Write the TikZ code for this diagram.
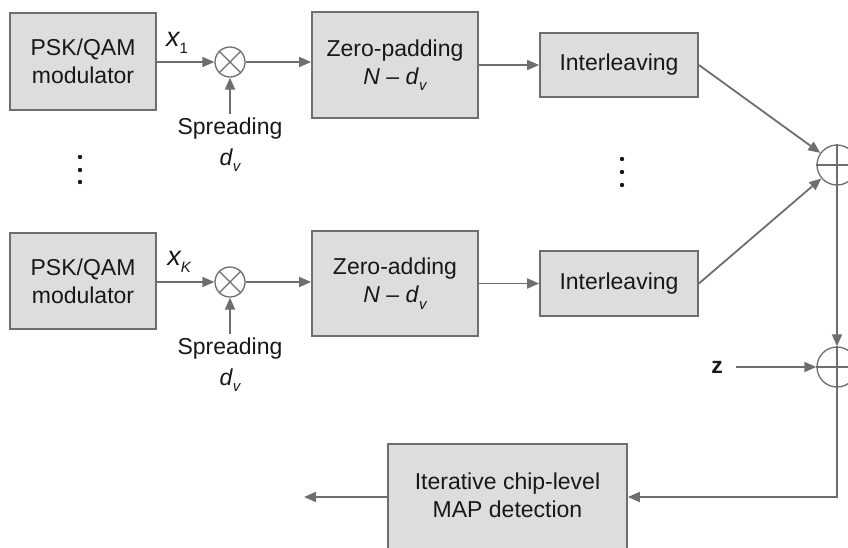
\documentclass[tikz,border=0pt]{standalone}
\usepackage{fontspec}
\setmainfont{Liberation Sans}
\usetikzlibrary{arrows.meta}
\definecolor{lc}{HTML}{6E6E70}
\definecolor{bf}{HTML}{DCDDDF}
\definecolor{tc}{HTML}{1A1718}
\newcommand\mysub[1]{\raisebox{-0.28em}{\fontsize{15}{15}\selectfont\itshape #1}}
\newcommand\dvtext{\textit{d}\mysub{v}}
\begin{document}
\begin{tikzpicture}[x=1pt,y=-1pt,
  every node/.style={text=tc, font=\fontsize{23}{28}\selectfont},
  box/.style={draw=lc, fill=bf, line width=1.8pt, inner sep=0pt, align=center},
  arr/.style={draw=lc, line width=1.8pt, -{Triangle[length=12pt,width=10pt]}},
  opc/.style={circle, draw=lc, line width=1.3pt, inner sep=0pt}]
\useasboundingbox (0,0) rectangle (848,547);
\clip (0,0) rectangle (848,547);

% boxes
\node[box, minimum width=146pt, minimum height=97pt] (psk1) at (83,61.5) {PSK/QAM\\modulator};
\node[box, minimum width=146pt, minimum height=96pt] (psk2) at (83,281) {PSK/QAM\\modulator};
\node[box, minimum width=166pt, minimum height=106pt] (zp) at (395,65) {Zero-padding\\\textit{N} -- \dvtext};
\node[box, minimum width=166pt, minimum height=105pt] (za) at (395,283.5) {Zero-adding\\\textit{N} -- \dvtext};
\node[box, minimum width=158pt, minimum height=64pt] (il1) at (619,65) {Interleaving};
\node[box, minimum width=158pt, minimum height=65pt] (il2) at (619,283.5) {Interleaving};
\node[box, minimum width=239pt, minimum height=130pt, anchor=north] (map) at (507.5,443) {};
\node[align=center] (maptext) at (507.5,495) {Iterative chip-level\\MAP detection};

% operators
\node[opc, minimum size=30pt] (m1) at (230,62) {};
\node[opc, minimum size=30pt] (m2) at (230,282) {};
\draw[lc, line width=1.3pt] (m1.45)--(m1.225) (m1.135)--(m1.315);
\draw[lc, line width=1.3pt] (m2.45)--(m2.225) (m2.135)--(m2.315);
\node[opc, minimum size=40pt] (a1) at (837,165) {};
\node[opc, minimum size=40pt] (a2) at (837,367) {};
\draw[lc, line width=1.3pt] (a1.north)--(a1.south) (a1.west)--(a1.east);
\draw[lc, line width=1.3pt] (a2.north)--(a2.south) (a2.west)--(a2.east);

% labels
\node[font=\fontsize{27}{27}\selectfont\itshape] (x1) at (177,43) {x\mysub{\upshape 1}};
\node[font=\fontsize{27}{27}\selectfont\itshape] (xk) at (179,262) {x\mysub{K}};
\node[anchor=base] (sp1) at (230,134) {Spreading};
\node (dv1) at (230,160) {\dvtext};
\node[anchor=base] (sp2) at (230,354) {Spreading};
\node (dv2) at (230,380) {\dvtext};
\node[font=\fontsize{23}{23}\selectfont\bfseries] (z) at (717,367) {z};

% connectors
\draw[arr] (psk1.east |- m1) -- (m1);
\draw[arr] (psk2.east |- m2) -- (m2);
\draw[arr] (sp1.north) -- (m1);
\draw[arr] (sp2.north) -- (m2);
\draw[arr] (m1) -- (zp.west |- m1);
\draw[arr] (m2) -- (za.west |- m2);
\draw[arr] (zp) -- (il1);
\draw[arr] (za) -- (il2);
\draw[arr] (il1.east) -- (a1);
\draw[arr] (il2.east) -- (a1);
\draw[arr] (a1) -- (a2);
\draw[arr, shorten <=10pt] (z) -- (a2);
\coordinate (corner) at (837,497);
\coordinate (out) at (304,497);
\draw[arr] (a2) -- (corner) -- (map.east |- corner);
\draw[arr] (map.west |- corner) -- (out);

% dots
\foreach \y in {157,170,182} \fill[tc] (80,\y) circle (2.2pt);
\foreach \y in {159,172,185} \fill[tc] (622,\y) circle (2.2pt);
\end{tikzpicture}
\end{document}
